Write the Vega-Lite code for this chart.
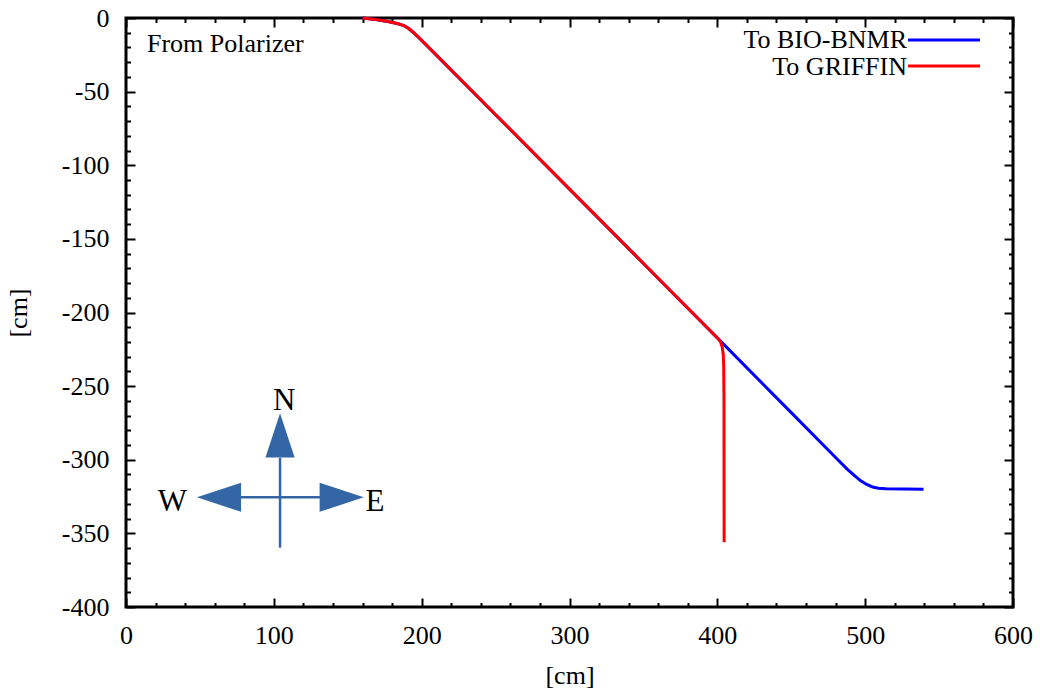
{
  "$schema": "https://vega.github.io/schema/vega-lite/v6.json",
  "width": 887,
  "height": 589,
  "autosize": "none",
  "padding": {"left": 126, "top": 18, "right": 27, "bottom": 85},
  "background": "white",
  "config": {
    "view": {"stroke": "black", "strokeWidth": 3},
    "axis": {
      "grid": false, "domain": false,
      "labelFont": "Liberation Serif", "labelFontSize": 26, "labelColor": "black",
      "titleFont": "Liberation Serif", "titleFontSize": 26, "titleFontWeight": "normal", "titleColor": "black",
      "tickColor": "black", "tickWidth": 2,
      "labelFlush": false, "labelOverlap": false, "labelBound": false
    }
  },
  "datasets": {
    "paths": [
      {"series": "To BIO-BNMR", "i": 1, "x": 160, "y": 0},
      {"series": "To BIO-BNMR", "i": 2, "x": 170, "y": -1.2},
      {"series": "To BIO-BNMR", "i": 3, "x": 178, "y": -2.6},
      {"series": "To BIO-BNMR", "i": 4, "x": 184, "y": -3.9},
      {"series": "To BIO-BNMR", "i": 5, "x": 188, "y": -5.2},
      {"series": "To BIO-BNMR", "i": 6, "x": 191, "y": -7},
      {"series": "To BIO-BNMR", "i": 7, "x": 194, "y": -9.5},
      {"series": "To BIO-BNMR", "i": 8, "x": 197, "y": -12.3},
      {"series": "To BIO-BNMR", "i": 9, "x": 200, "y": -15.2},
      {"series": "To BIO-BNMR", "i": 10, "x": 250, "y": -65.7},
      {"series": "To BIO-BNMR", "i": 11, "x": 300, "y": -116.2},
      {"series": "To BIO-BNMR", "i": 12, "x": 350, "y": -166.7},
      {"series": "To BIO-BNMR", "i": 13, "x": 400, "y": -217.2},
      {"series": "To BIO-BNMR", "i": 14, "x": 450, "y": -268},
      {"series": "To BIO-BNMR", "i": 15, "x": 480, "y": -298.5},
      {"series": "To BIO-BNMR", "i": 16, "x": 488, "y": -306.5},
      {"series": "To BIO-BNMR", "i": 17, "x": 493, "y": -311},
      {"series": "To BIO-BNMR", "i": 18, "x": 497, "y": -314.3},
      {"series": "To BIO-BNMR", "i": 19, "x": 501, "y": -316.8},
      {"series": "To BIO-BNMR", "i": 20, "x": 505, "y": -318.5},
      {"series": "To BIO-BNMR", "i": 21, "x": 509, "y": -319.4},
      {"series": "To BIO-BNMR", "i": 22, "x": 514, "y": -319.7},
      {"series": "To BIO-BNMR", "i": 23, "x": 539.5, "y": -320},
      {"series": "To GRIFFIN", "i": 1, "x": 160, "y": 0},
      {"series": "To GRIFFIN", "i": 2, "x": 170, "y": -1.2},
      {"series": "To GRIFFIN", "i": 3, "x": 178, "y": -2.6},
      {"series": "To GRIFFIN", "i": 4, "x": 184, "y": -3.9},
      {"series": "To GRIFFIN", "i": 5, "x": 188, "y": -5.2},
      {"series": "To GRIFFIN", "i": 6, "x": 191, "y": -7},
      {"series": "To GRIFFIN", "i": 7, "x": 194, "y": -9.5},
      {"series": "To GRIFFIN", "i": 8, "x": 197, "y": -12.3},
      {"series": "To GRIFFIN", "i": 9, "x": 200, "y": -15.2},
      {"series": "To GRIFFIN", "i": 10, "x": 250, "y": -65.7},
      {"series": "To GRIFFIN", "i": 11, "x": 300, "y": -116.2},
      {"series": "To GRIFFIN", "i": 12, "x": 350, "y": -166.7},
      {"series": "To GRIFFIN", "i": 13, "x": 390, "y": -207.1},
      {"series": "To GRIFFIN", "i": 14, "x": 395, "y": -212.2},
      {"series": "To GRIFFIN", "i": 15, "x": 398, "y": -215.3},
      {"series": "To GRIFFIN", "i": 16, "x": 400.5, "y": -217.8},
      {"series": "To GRIFFIN", "i": 17, "x": 402.2, "y": -220},
      {"series": "To GRIFFIN", "i": 18, "x": 403.3, "y": -223.5},
      {"series": "To GRIFFIN", "i": 19, "x": 404, "y": -228.5},
      {"series": "To GRIFFIN", "i": 20, "x": 404.3, "y": -236},
      {"series": "To GRIFFIN", "i": 21, "x": 404.5, "y": -260},
      {"series": "To GRIFFIN", "i": 22, "x": 404.6, "y": -356}
    ],
    "legendlines": [
      {"series": "To BIO-BNMR", "x": 529, "x2": 577.7, "y": -14.9},
      {"series": "To GRIFFIN", "x": 529, "x2": 577.7, "y": -32.6}
    ],
    "legendtext": [
      {"series": "To BIO-BNMR", "x": 528.3, "y": -14.9},
      {"series": "To GRIFFIN", "x": 528.3, "y": -33.1}
    ],
    "notes": [
      {"label": "From Polarizer", "x": 14.2, "y": -17.7}
    ],
    "compasslines": [
      {"x": 77.6, "x2": 131.2, "y": -325.5, "y2": -325.5},
      {"x": 104.2, "x2": 104.2, "y": -298.6, "y2": -359.7}
    ],
    "compassheads": [
      {"dir": "N", "x": 104.2, "y": -283.4},
      {"dir": "W", "x": 62.9, "y": -325.5},
      {"dir": "E", "x": 145.9, "y": -325.5}
    ],
    "compasslabels": [
      {"dir": "N", "x": 107.0, "y": -259.9},
      {"dir": "W", "x": 31.3, "y": -328.5},
      {"dir": "E", "x": 168.4, "y": -328.5}
    ]
  },
  "layer": [
    {
      "data": {"name": "paths"},
      "transform": [{"filter": "datum.series === 'To BIO-BNMR'"}],
      "mark": {"type": "line", "strokeWidth": 3},
      "encoding": {
        "x": {"field": "x", "type": "quantitative", "scale": {"domain": [0, 600], "nice": false, "zero": false},
          "axis": {"orient": "bottom", "values": [0, 100, 200, 300, 400, 500, 600], "tickSize": -9, "labelPadding": 24, "labelFont": "Liberation Serif", "labelExpr": "datum.value + ''", "title": "[cm]", "titlePadding": 14}},
        "y": {"field": "y", "type": "quantitative", "scale": {"domain": [-400, 0], "nice": false, "zero": false},
          "axis": {"orient": "left", "values": [-400, -350, -300, -250, -200, -150, -100, -50, 0], "tickSize": -9, "labelPadding": 26, "labelFont": "Liberation Serif", "labelExpr": "datum.value + ''", "title": "[cm]", "titlePadding": 30}},
        "order": {"field": "i", "type": "quantitative"},
        "color": {"field": "series", "type": "nominal", "scale": {"domain": ["To BIO-BNMR", "To GRIFFIN"], "range": ["#0000ff", "#ff0000"]}, "legend": null}
      }
    },
    {
      "data": {"name": "paths"},
      "transform": [{"filter": "datum.series === 'To GRIFFIN'"}],
      "mark": {"type": "line", "strokeWidth": 3},
      "encoding": {
        "x": {"field": "x", "type": "quantitative", "scale": {"domain": [0, 600], "nice": false, "zero": false},
          "axis": {"orient": "bottom", "values": [20, 40, 60, 80, 120, 140, 160, 180, 220, 240, 260, 280, 320, 340, 360, 380, 420, 440, 460, 480, 520, 540, 560, 580], "tickSize": -4.5, "labels": false, "title": null}},
        "y": {"field": "y", "type": "quantitative", "scale": {"domain": [-400, 0], "nice": false, "zero": false},
          "axis": {"orient": "left", "values": [-390, -380, -370, -360, -340, -330, -320, -310, -290, -280, -270, -260, -240, -230, -220, -210, -190, -180, -170, -160, -140, -130, -120, -110, -90, -80, -70, -60, -40, -30, -20, -10], "tickSize": -4.5, "labels": false, "title": null}},
        "order": {"field": "i", "type": "quantitative"},
        "color": {"field": "series", "type": "nominal", "scale": {"domain": ["To BIO-BNMR", "To GRIFFIN"], "range": ["#0000ff", "#ff0000"]}, "legend": null}
      }
    },
    {
      "data": {"name": "legendlines"},
      "mark": {"type": "rule", "strokeWidth": 3},
      "encoding": {
        "x": {"field": "x", "type": "quantitative", "scale": {"domain": [0, 600], "nice": false, "zero": false},
          "axis": {"orient": "top", "values": [0, 100, 200, 300, 400, 500, 600], "tickSize": -9, "labels": false, "title": null}},
        "x2": {"field": "x2"},
        "y": {"field": "y", "type": "quantitative", "scale": {"domain": [-400, 0], "nice": false, "zero": false},
          "axis": {"orient": "right", "values": [-400, -350, -300, -250, -200, -150, -100, -50, 0], "tickSize": -9, "labels": false, "title": null}},
        "color": {"field": "series", "type": "nominal", "scale": {"domain": ["To BIO-BNMR", "To GRIFFIN"], "range": ["#0000ff", "#ff0000"]}, "legend": null}
      }
    },
    {
      "data": {"name": "legendtext"},
      "mark": {"type": "text", "align": "right", "baseline": "middle", "font": "Liberation Serif", "fontSize": 26, "color": "black"},
      "encoding": {
        "x": {"field": "x", "type": "quantitative", "scale": {"domain": [0, 600], "nice": false, "zero": false},
          "axis": {"orient": "top", "values": [20, 40, 60, 80, 120, 140, 160, 180, 220, 240, 260, 280, 320, 340, 360, 380, 420, 440, 460, 480, 520, 540, 560, 580], "tickSize": -4.5, "labels": false, "title": null}},
        "y": {"field": "y", "type": "quantitative", "scale": {"domain": [-400, 0], "nice": false, "zero": false},
          "axis": {"orient": "right", "values": [-390, -380, -370, -360, -340, -330, -320, -310, -290, -280, -270, -260, -240, -230, -220, -210, -190, -180, -170, -160, -140, -130, -120, -110, -90, -80, -70, -60, -40, -30, -20, -10], "tickSize": -4.5, "labels": false, "title": null}},
        "text": {"field": "series"}
      }
    },
    {
      "data": {"name": "notes"},
      "mark": {"type": "text", "align": "left", "baseline": "middle", "font": "Liberation Serif", "fontSize": 26, "color": "black"},
      "encoding": {
        "x": {"field": "x", "type": "quantitative", "scale": {"domain": [0, 600], "nice": false, "zero": false}, "axis": null},
        "y": {"field": "y", "type": "quantitative", "scale": {"domain": [-400, 0], "nice": false, "zero": false}, "axis": null},
        "text": {"field": "label"}
      }
    },
    {
      "data": {"name": "compasslines"},
      "mark": {"type": "rule", "strokeWidth": 2.5, "color": "#3465a4"},
      "encoding": {
        "x": {"field": "x", "type": "quantitative", "scale": {"domain": [0, 600], "nice": false, "zero": false}, "axis": null},
        "x2": {"field": "x2"},
        "y": {"field": "y", "type": "quantitative", "scale": {"domain": [-400, 0], "nice": false, "zero": false}, "axis": null},
        "y2": {"field": "y2"}
      }
    },
    {
      "data": {"name": "compassheads"},
      "mark": {"type": "point", "filled": true, "size": 1950, "opacity": 1, "color": "#3465a4", "strokeWidth": 0},
      "encoding": {
        "x": {"field": "x", "type": "quantitative", "scale": {"domain": [0, 600], "nice": false, "zero": false}, "axis": null},
        "y": {"field": "y", "type": "quantitative", "scale": {"domain": [-400, 0], "nice": false, "zero": false}, "axis": null},
        "shape": {"field": "dir", "type": "nominal", "scale": {"domain": ["N", "W", "E"], "range": ["M0,-1L0.66,1L-0.66,1Z", "M-1,0L1,-0.66L1,0.66Z", "M1,0L-1,-0.66L-1,0.66Z"]}, "legend": null}
      }
    },
    {
      "data": {"name": "compasslabels"},
      "mark": {"type": "text", "align": "center", "baseline": "middle", "font": "Liberation Serif", "fontSize": 31, "color": "black"},
      "encoding": {
        "x": {"field": "x", "type": "quantitative", "scale": {"domain": [0, 600], "nice": false, "zero": false}, "axis": null},
        "y": {"field": "y", "type": "quantitative", "scale": {"domain": [-400, 0], "nice": false, "zero": false}, "axis": null},
        "text": {"field": "dir"}
      }
    }
  ],
  "resolve": {"axis": {"x": "independent", "y": "independent"}}
}
